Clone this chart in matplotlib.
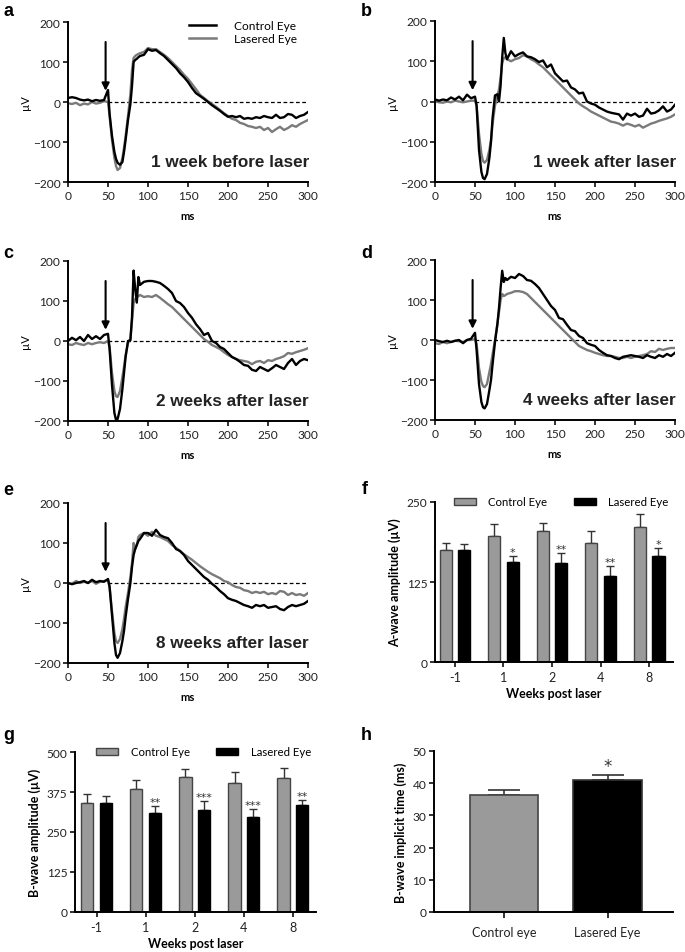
import matplotlib
matplotlib.use('Agg')
import matplotlib.pyplot as plt
from matplotlib.patches import Patch
from matplotlib.lines import Line2D

plt.rcParams['font.family'] = ['Lato', 'DejaVu Sans']

# ---------------- ERG traces (time in ms, amplitude in uV) ----------------
t_ms = [0, 5, 10, 15, 20, 25, 30, 35, 40, 45, 50,
        52, 55, 58, 60, 62, 65, 68, 70, 72, 75, 78, 80, 82, 84, 86, 88, 90,
        95, 100, 105, 110, 115, 120, 125, 130, 135, 140, 145, 150, 155, 160,
        165, 170, 175, 180, 185, 190, 195, 200, 205, 210, 215, 220, 225, 230,
        235, 240, 245, 250, 255, 260, 265, 270, 275, 280, 285, 290, 295, 300]

a_ctrl = [10, 12, 10, 6, 4, 6, 2, 5, 3, 5, 30,
          -30, -85, -125, -142, -152, -157, -150, -125, -95, -45, -5, 40, 100, 105, 108, 112, 115,
          118, 132, 128, 130, 122, 115, 105, 95, 85, 72, 62, 50, 35, 22, 15, 8, 0, -8, -15, -22,
          -30, -37, -35, -38, -35, -42, -40, -42, -38, -40, -35, -38, -40, -32, -40, -38, -30, -32,
          -40, -35, -32, -25]
a_las = [-3, -5, -2, -8, -4, -6, 0, -4, -2, 2, 0,
         -35, -95, -140, -160, -170, -165, -140, -115, -85, -35, 20, 80, 110, 115, 118, 120, 122,
         125, 135, 132, 132, 125, 118, 110, 100, 90, 80, 68, 58, 45, 32, 18, 10, 2, -5, -12, -20,
         -28, -35, -42, -45, -52, -55, -60, -62, -65, -62, -70, -65, -75, -68, -62, -70, -65, -58,
         -62, -55, -50, -45]

b_ctrl = [5, 2, 5, 3, 10, 5, 12, 3, 17, 8, 12,
          -10, -120, -175, -190, -193, -180, -140, -100, -40, 15, 18, 0, 40, 110, 158, 120, 105,
          125, 112, 118, 122, 112, 110, 105, 98, 102, 85, 92, 70, 60, 50, 52, 35, 30, 20, 22, 0,
          -5, -8, -15, -20, -25, -28, -30, -32, -45, -30, -35, -30, -38, -35, -18, -30, -28, -22,
          -12, -25, -20, -8]
b_las = [0, -2, -3, 0, -2, 2, 0, -2, 0, 2, 2,
         -10, -80, -130, -148, -152, -145, -120, -95, -55, -10, 15, 30, 60, 95, 108, 110, 105,
         100, 105, 108, 115, 112, 105, 100, 92, 85, 75, 65, 55, 45, 35, 25, 15, 5, -5, -12, -18,
         -25, -30, -35, -40, -45, -50, -52, -55, -60, -55, -58, -62, -58, -65, -60, -55, -52, -48,
         -45, -42, -38, -32]

c_ctrl = [0, 8, 2, 10, 0, 15, 5, 12, 5, 15, 18,
          -20, -110, -180, -197, -195, -170, -120, -80, -40, 0, 2, 60, 176, 130, 96, 160, 140,
          148, 150, 150, 148, 145, 138, 130, 120, 100, 95, 85, 70, 58, 42, 30, 15, 20, 0, -5, -15,
          -20, -30, -40, -45, -52, -60, -62, -72, -75, -65, -70, -75, -68, -60, -65, -70, -55, -45,
          -60, -50, -45, -48]
c_las = [-8, -10, -5, -8, -10, -5, -8, -5, -3, -5, 0,
         -15, -80, -125, -138, -140, -125, -90, -65, -35, -5, 5, 50, 95, 105, 108, 112, 115,
         110, 112, 110, 115, 108, 100, 92, 85, 75, 65, 55, 45, 35, 25, 15, 5, -2, -10, -15, -20,
         -28, -35, -40, -45, -48, -50, -52, -58, -52, -50, -55, -48, -50, -45, -42, -38, -30, -32,
         -28, -25, -22, -18]

d_ctrl = [0, -3, -5, -2, -5, -2, 0, -8, 0, 3, 18,
          -25, -110, -155, -168, -171, -160, -125, -100, -60, -5, 40, 80, 130, 173, 145, 155, 150,
          158, 155, 165, 160, 150, 148, 140, 130, 115, 100, 85, 75, 55, 52, 38, 25, 22, 10, 5, -8,
          -12, -15, -25, -32, -38, -40, -45, -48, -42, -40, -38, -40, -42, -45, -38, -42, -45, -38,
          -42, -35, -40, -32]
d_las = [-8, -10, -5, -8, -5, -2, -3, -5, 0, 0, 2,
         -10, -70, -105, -115, -118, -110, -80, -60, -35, 0, 40, 70, 100, 115, 110, 112, 115,
         118, 122, 122, 120, 115, 105, 95, 85, 75, 65, 55, 45, 35, 25, 15, 5, -5, -15, -20, -25,
         -28, -32, -35, -38, -40, -40, -42, -45, -45, -42, -45, -42, -40, -38, -35, -28, -30, -22,
         -25, -22, -20, -20]

e_ctrl = [0, -3, 0, 2, 5, 0, 8, 2, 5, 3, 10,
          -10, -80, -150, -180, -187, -175, -145, -120, -85, -40, 0, 40, 70, 85, 95, 105, 110,
          125, 125, 118, 133, 120, 115, 112, 100, 85, 80, 70, 55, 45, 35, 25, 15, 8, -2, -10, -20,
          -28, -38, -42, -45, -50, -55, -58, -62, -55, -58, -55, -62, -60, -58, -65, -68, -60, -55,
          -58, -55, -52, -45]
e_las = [0, -2, 5, 0, 3, 0, 5, -2, 3, 5, 8,
         -10, -70, -125, -145, -150, -140, -115, -90, -60, -25, 15, 50, 100, 85, 95, 115, 120,
         125, 118, 128, 118, 115, 110, 105, 95, 88, 80, 72, 65, 58, 50, 42, 35, 28, 22, 17, 12,
         5, 2, -5, -10, -12, -18, -20, -25, -22, -25, -22, -28, -25, -28, -20, -22, -30, -25,
         -30, -28, -32, -25]

erg_titles = ['1 week before laser', '1 week after laser', '2 weeks after laser',
              '4 weeks after laser', '8 weeks after laser']

# ---------------- bar chart data ----------------
weeks = ['-1', '1', '2', '4', '8']
a_wave_ctrl = [175, 197, 204, 186, 211]
a_wave_ctrl_err = [11, 19, 13, 18, 20]
a_wave_las = [175, 157, 154, 135, 165]
a_wave_las_err = [10, 8, 16, 15, 13]
a_wave_sig = ['', '*', '**', '**', '*']

b_wave_ctrl = [340, 385, 421, 404, 418]
b_wave_ctrl_err = [28, 29, 26, 34, 33]
b_wave_las = [340, 309, 318, 297, 333]
b_wave_las_err = [24, 22, 28, 25, 17]
b_wave_sig = ['', '**', '***', '***', '**']

implicit_labels = ['Control eye', 'Lasered Eye']
implicit_vals = [36.4, 40.9]
implicit_err = [1.6, 1.6]
implicit_sig = ['', '*']

# ---------------- style ----------------
GRAY_LINE = '#7a7a7a'
GRAY_BAR = '#9a9a9a'
EDGE = '#444444'
TICK_FS = 8.6
W, H = 685, 953
SANS_B = ['Liberation Sans', 'DejaVu Sans']

fig = plt.figure(figsize=(W / 100, H / 100), dpi=100)


def rect(x0, y0, x1, y1):
    return [x0 / W, 1 - y1 / H, (x1 - x0) / W, (y1 - y0) / H]


def style_axes(ax):
    for s in ['top', 'right']:
        ax.spines[s].set_visible(False)
    for s in ['left', 'bottom']:
        ax.spines[s].set_linewidth(1.4)
    ax.tick_params(direction='out', length=3.5, width=1.3, labelsize=TICK_FS,
                   colors='#222222', pad=2)


erg_rects = [rect(68, 23, 308, 183), rect(435, 22, 675, 183), rect(68, 262, 308, 422),
             rect(435, 261, 675, 421), rect(68, 504, 308, 664)]
erg_data = [(a_ctrl, a_las), (b_ctrl, b_las), (c_ctrl, c_las), (d_ctrl, d_las), (e_ctrl, e_las)]

for i, (r, (ctrl, las), title) in enumerate(zip(erg_rects, erg_data, erg_titles)):
    ax = fig.add_axes(r)
    style_axes(ax)
    ax.axhline(0, xmin=50 / 300, xmax=1, color='black', lw=0.9, dashes=(3, 2))
    ax.plot(t_ms, las, color=GRAY_LINE, lw=1.7, label='Lasered Eye')
    ax.plot(t_ms, ctrl, color='black', lw=1.7, label='Control Eye')
    ax.set_xlim(0, 300)
    ax.set_ylim(-200, 200)
    ax.set_xticks([0, 50, 100, 150, 200, 250, 300])
    ax.set_yticks([-200, -100, 0, 100, 200])
    ax.set_xlabel('ms', fontsize=8, fontweight='bold', labelpad=7)
    ax.set_ylabel('µV', fontsize=8, labelpad=1)
    ax.annotate('', xy=(47, 28), xytext=(47, 150),
                arrowprops=dict(arrowstyle='-|>', color='black', lw=1.5,
                                mutation_scale=11, shrinkA=0, shrinkB=0))
    ax.text(301, -148, title, ha='right', va='center', fontsize=12.3,
            fontweight='bold', color='#222222', family=SANS_B)
    if i == 0:
        handles = [Line2D([], [], color='black', lw=1.8),
                   Line2D([], [], color=GRAY_LINE, lw=1.8)]
        ax.legend(handles, ['Control Eye', 'Lasered Eye'], loc='upper right',
                  bbox_to_anchor=(1.0, 1.08), frameon=False, fontsize=8.6,
                  handlelength=2.3, handletextpad=1.5, labelspacing=0.2)


def bar_panel(ax, ctrl, ctrl_err, las, las_err, sig, ymax, yticks, ylabel, xlim, lx):
    style_axes(ax)
    pos = list(range(len(weeks)))
    off, w = 0.19, 0.25
    pc = [p - off for p in pos]
    pl = [p + off for p in pos]
    ax.bar(pc, ctrl, width=w, color=GRAY_BAR, edgecolor=EDGE, linewidth=1.0,
           label='Control Eye', zorder=2)
    ax.bar(pl, las, width=w, color='black', edgecolor='black', linewidth=1.0,
           label='Lasered Eye', zorder=2)
    ax.errorbar(pc, ctrl, yerr=[[0] * len(ctrl), ctrl_err], fmt='none', ecolor='#333333',
                elinewidth=1.0, capsize=2.6, capthick=1.0, zorder=1)
    ax.errorbar(pl, las, yerr=[[0] * len(las), las_err], fmt='none', ecolor='#333333',
                elinewidth=1.0, capsize=2.6, capthick=1.0, zorder=1)
    for p, v, e, s in zip(pl, las, las_err, sig):
        if s:
            ax.text(p, v + e - ymax * 0.005, s, ha='center', va='bottom', fontsize=8,
                    color='#333333', family=['DejaVu Sans'])
    ax.set_xlim(*xlim)
    ax.set_ylim(0, ymax)
    ax.set_yticks(yticks)
    ax.set_xticks(pos)
    ax.set_xticklabels(weeks)
    ax.tick_params(axis='x', labelsize=9, pad=3)
    ax.set_xlabel('Weeks post laser', fontsize=9, fontweight='bold', labelpad=3)
    ax.set_ylabel(ylabel, fontsize=9, fontweight='bold', labelpad=4)
    handles = [Patch(facecolor=GRAY_BAR, edgecolor=EDGE, linewidth=1.0),
               Patch(facecolor='black', edgecolor='black')]
    ax.legend(handles, ['Control Eye', 'Lasered Eye'], loc='center',
              bbox_to_anchor=(lx, 1.0), ncol=2, frameon=False, fontsize=8.2,
              handlelength=1.95, handleheight=0.55, handletextpad=1.1, columnspacing=2.3,
              borderaxespad=0, borderpad=0)


ax_f = fig.add_axes(rect(435, 503, 673, 663))
bar_panel(ax_f, a_wave_ctrl, a_wave_ctrl_err, a_wave_las, a_wave_las_err, a_wave_sig,
          250, [0, 125, 250], 'A-wave amplitude (µV)', (-0.41, 4.49), 0.53)

ax_g = fig.add_axes(rect(75, 753, 316, 913))
bar_panel(ax_g, b_wave_ctrl, b_wave_ctrl_err, b_wave_las, b_wave_las_err, b_wave_sig,
          500, [0, 125, 250, 375, 500], 'B-wave amplitude (µV)', (-0.44, 4.47), 0.533)

ax_h = fig.add_axes(rect(434, 752, 673, 913))
style_axes(ax_h)
hpos = list(range(len(implicit_labels)))
ax_h.bar(hpos, implicit_vals, width=0.66, color=[GRAY_BAR, 'black'],
         edgecolor=[EDGE, '#333333'], linewidth=1.2, zorder=2)
ax_h.errorbar(hpos, implicit_vals, yerr=[[0, 0], implicit_err], fmt='none', ecolor='#333333',
              elinewidth=1.2, capsize=11.5, capthick=1.2, zorder=1)
for p, v, e, s in zip(hpos, implicit_vals, implicit_err, implicit_sig):
    if s:
        ax_h.text(p, v + e, s, ha='center', va='bottom', fontsize=12, color='#333333',
                  family=['DejaVu Sans'])
ax_h.set_xlim(-0.675, 1.63)
ax_h.set_ylim(0, 50)
ax_h.set_yticks([0, 10, 20, 30, 40, 50])
ax_h.set_xticks(hpos)
ax_h.set_xticklabels(implicit_labels)
ax_h.tick_params(axis='x', length=4, pad=6, labelsize=9)
ax_h.set_ylabel('B-wave implicit time (ms)', fontsize=9, fontweight='bold', labelpad=4)

# panel letters
letters = [('a', 3, 3), ('b', 361, 3), ('c', 3, 245), ('d', 361, 245),
           ('e', 3, 482), ('f', 362, 481), ('g', 3, 727), ('h', 361, 727)]
for ch, x, y in letters:
    fig.text(x / W, 1 - y / H, ch, ha='left', va='top', fontsize=13, fontweight='bold',
             family=SANS_B)

fig.savefig('out.png', dpi=100)
